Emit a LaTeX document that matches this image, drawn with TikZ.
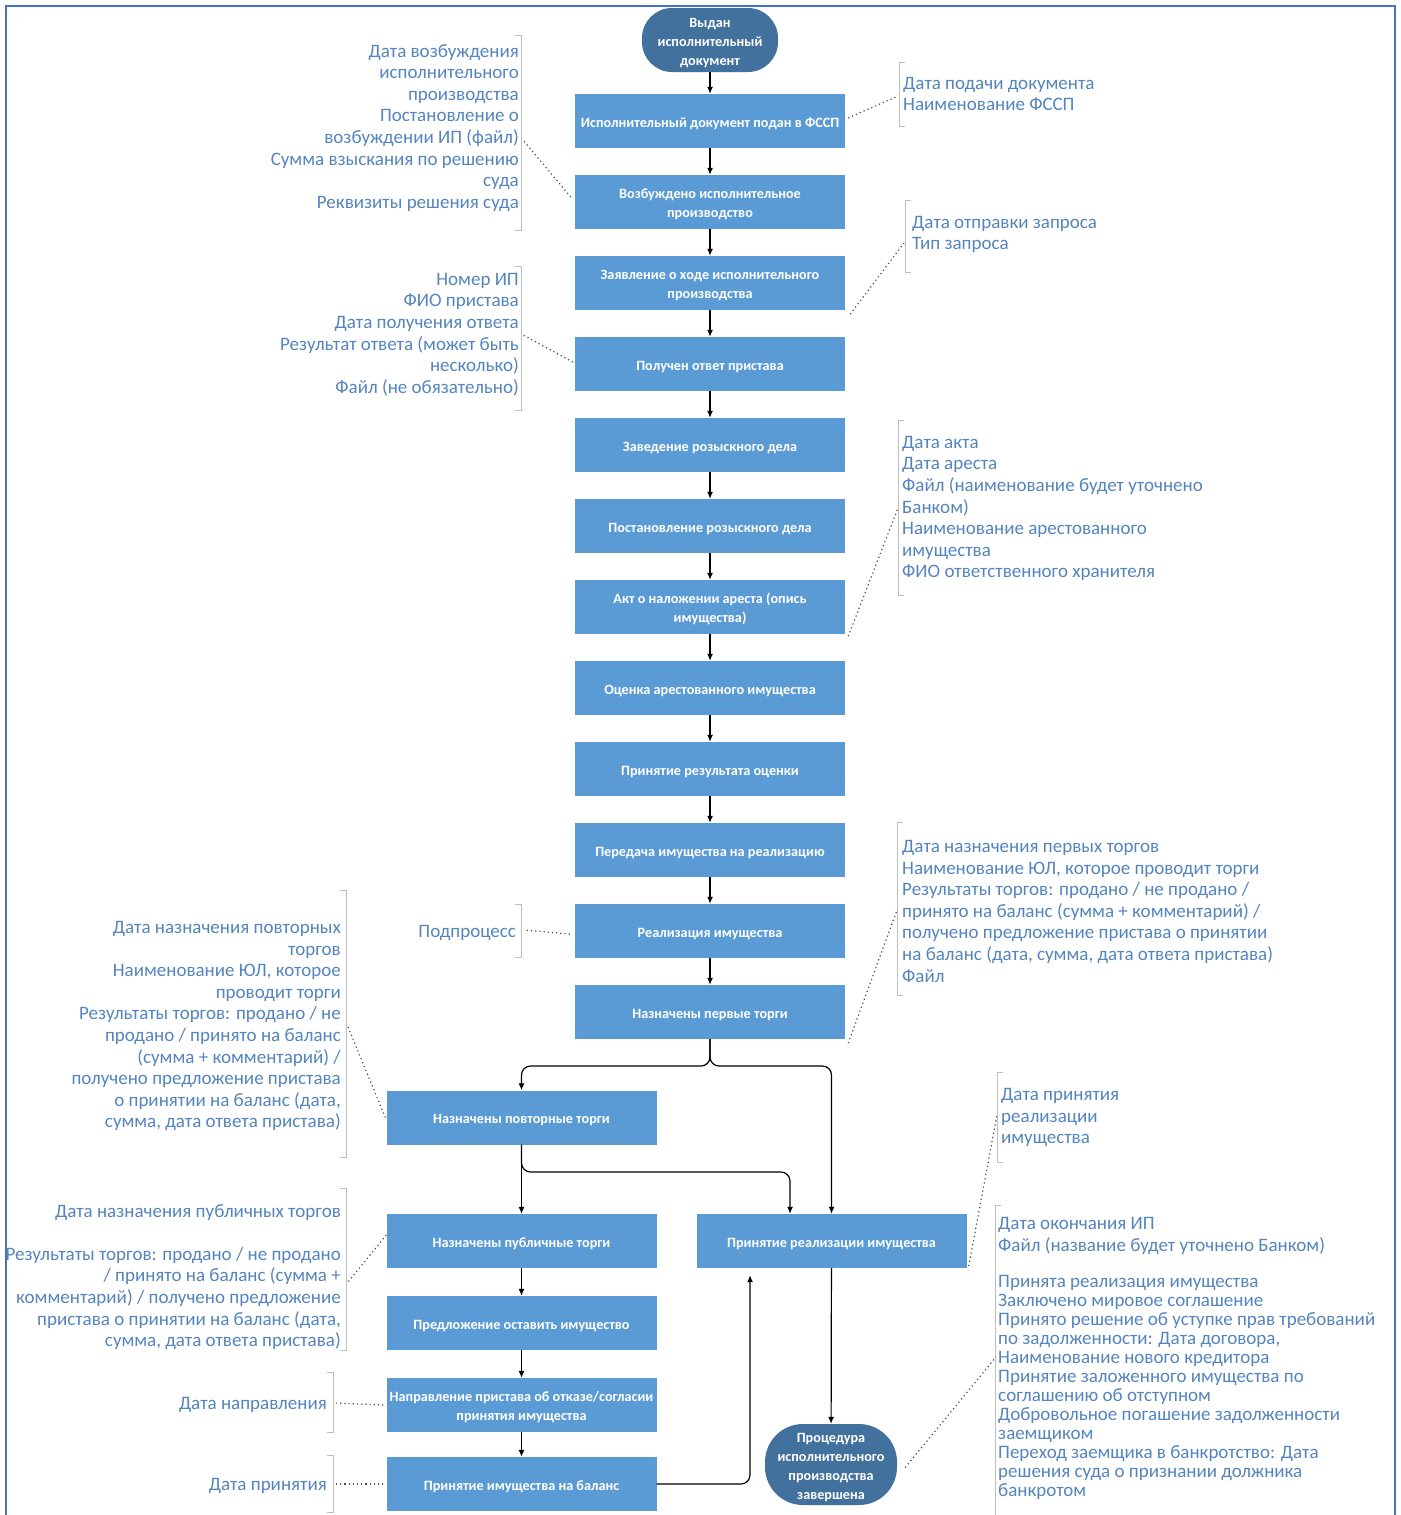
\documentclass[tikz,border=0pt]{standalone}
\usepackage{fontspec}
\setmainfont{Carlito}
\usetikzlibrary{arrows.meta}
\definecolor{boxblue}{RGB}{91,155,213}
\definecolor{termblue}{RGB}{65,113,156}
\definecolor{notecol}{RGB}{84,133,190}
\definecolor{brkcol}{RGB}{190,190,190}
\definecolor{frame}{RGB}{68,114,196}
\newcommand{\boxfont}{\bfseries\fontsize{14.2}{19}\selectfont}
\newcommand{\notefont}{\fontsize{19}{21.6}\selectfont}
\newcommand{\tightnote}{\fontsize{19}{19}\selectfont}
\tikzset{
  x=1pt, y=-1pt,
  proc/.style={rectangle, fill=boxblue, minimum width=270pt, minimum height=54pt,
    inner sep=1pt, text height=15pt, text=white, font=\boxfont, align=center},
  proctwo/.style={proc, text height=34pt},
  term/.style={rectangle, rounded corners=30pt, fill=termblue, inner sep=1pt,
    text=white, font=\boxfont, align=center},
  notel/.style={text=notecol, font=\notefont, inner sep=0pt, align=right, anchor=north east},
  noter/.style={text=notecol, font=\notefont, inner sep=0pt, align=left, anchor=north west},
  link/.style={-{Latex[length=7pt,width=6pt]}, line width=1.2pt, black},
  dots/.style={line width=1.2pt, dash pattern=on 1.2pt off 3pt, black!70},
  brk/.style={line width=1pt, brkcol}
}
\begin{document}
\begin{tikzpicture}
\useasboundingbox (0,0) rectangle (1400,1515);
\fill[white] (0,0) rectangle (1400,1515);
% frame, open at the bottom
\draw[frame, line width=2.6pt] (6,1515) -- (6,6) -- (1395,6) -- (1395,1515);

% main column
\node[term, minimum width=136pt, minimum height=64pt, text height=53pt] (start) at (710,40) {Выдан\\исполнительный\\документ};
\node[proc]    (b2)  at (710,121)  {Исполнительный документ подан в ФССП};
\node[proctwo] (b3)  at (710,202)  {Возбуждено исполнительное\\производство};
\node[proctwo] (b4)  at (710,283)  {Заявление о ходе исполнительного\\производства};
\node[proc]    (b5)  at (710,364)  {Получен ответ пристава};
\node[proc]    (b6)  at (710,445)  {Заведение розыскного дела};
\node[proc]    (b7)  at (710,526)  {Постановление розыскного дела};
\node[proctwo] (b8)  at (710,607)  {Акт о наложении ареста (опись\\имущества)};
\node[proc]    (b9)  at (710,688)  {Оценка арестованного имущества};
\node[proc]    (b10) at (710,769)  {Принятие результата оценки};
\node[proc]    (b11) at (710,850)  {Передача имущества на реализацию};
\node[proc]    (b12) at (710,931)  {Реализация имущества};
\node[proc]    (b13) at (710,1012) {Назначены первые торги};

% lower part
\node[proc]    (p2)  at (521.5,1117.5) {Назначены повторные торги};
\node[proc]    (p3)  at (521.5,1241)   {Назначены публичные торги};
\node[proc]    (p4)  at (521.5,1323)   {Предложение оставить имущество};
\node[proctwo] (p5)  at (521.5,1405)   {Направление пристава об отказе/согласии\\принятия имущества};
\node[proc]    (p6)  at (521.5,1484)   {Принятие имущества на баланс};
\node[proc]    (acc) at (831.5,1241)   {Принятие реализации имущества};
\node[term, minimum width=132pt, minimum height=81pt, rounded corners=38pt, text height=72pt] (fin) at (831,1464.5)
  {Процедура\\исполнительного\\производства\\завершена};

% flow
\draw[link] (start) -- (b2);
\foreach \a/\b in {b2/b3,b3/b4,b4/b5,b5/b6,b6/b7,b7/b8,b8/b9,b9/b10,b10/b11,b11/b12,b12/b13,p3/p4,p4/p5,p5/p6}
  \draw[link] (\a) -- (\b);
\coordinate (split1) at (710,1066);
\coordinate (split2) at (521.5,1172);
\draw[link, rounded corners=9pt] (b13.south) -- (split1) -| (p2.north);
\draw[link, rounded corners=9pt] (b13.south) -- (split1) -| (acc.north);
\draw[link] (p2) -- (p3);
\draw[link, rounded corners=9pt] (p2.south) -- (split2) -| ([xshift=-41.5pt]acc.north);
\draw[link, rounded corners=9pt] (p6.east) -| ([xshift=-81.5pt,yshift=-7pt]acc.south);
\draw[link] (acc) -- (fin);

% annotation: initiation of proceedings
\draw[brk] (515,35) -- (521,35) -- (521,230) -- (515,230);
\node[notel] (n1) at (519,44) {Дата возбуждения\\исполнительного\\производства\\Постановление о\\возбуждении ИП (файл)\\Сумма взыскания по решению\\суда\\Реквизиты решения суда};
\coordinate (c1) at (523,140);
\draw[dots] ([xshift=-4pt,yshift=5pt]b3.west) -- (c1);

% annotation: filing with the bailiff service
\draw[brk] (905,62) -- (899,62) -- (899,126) -- (905,126);
\node[noter] (n2) at (903,77) {Дата подачи документа\\Наименование ФССП};
\coordinate (c2) at (898,96);
\draw[dots] ([xshift=3pt,yshift=3pt]b2.east) -- (c2);

% annotation: request
\draw[brk] (911,200) -- (905,200) -- (905,272) -- (911,272);
\node[noter] (n3) at (912,216) {Дата отправки запроса\\Тип запроса};
\coordinate (c3) at (904,243);
\draw[dots] ([xshift=5pt,yshift=-4pt]b4.south east) -- (c3);

% annotation: bailiff response
\draw[brk] (515,266) -- (521,266) -- (521,410) -- (515,410);
\node[notel] (n4) at (519,273) {Номер ИП\\ФИО пристава\\Дата получения ответа\\Результат ответа (может быть\\несколько)\\Файл (не обязательно)};
\coordinate (c4) at (523,335);
\draw[dots] ([xshift=-2pt,yshift=2pt]b5.west) -- (c4);

% annotation: seizure act
\draw[brk] (904,420) -- (898,420) -- (898,595) -- (904,595);
\node[noter] (n5) at (902,436) {Дата акта\\Дата ареста\\Файл (наименование будет уточнено\\Банком)\\Наименование арестованного\\имущества\\ФИО ответственного хранителя};
\coordinate (c5) at (898,508);
\draw[dots] ([xshift=3pt,yshift=-2pt]b8.south east) -- (c5);

% annotation: first auction
\draw[brk] (903,822) -- (897,822) -- (897,995) -- (903,995);
\node[noter] (n6) at (902,840) {Дата назначения первых торгов\\Наименование ЮЛ, которое проводит торги\\Результаты торгов: продано / не продано /\\принято на баланс (сумма + комментарий) /\\получено предложение пристава о принятии\\на баланс (дата, сумма, дата ответа пристава)\\Файл};
\coordinate (c6) at (897,910);
\draw[dots] ([xshift=3pt,yshift=-4pt]b13.south east) -- (c6);

% annotation: subprocess
\draw[brk] (515,904) -- (521,904) -- (521,957) -- (515,957);
\node[notel] (n7) at (516,925) {Подпроцесс};
\coordinate (c7) at (524,930);
\draw[dots] ([xshift=-5pt,yshift=-3pt]b12.west) -- (c7);

% annotation: repeated auction
\draw[brk] (340,890) -- (346,890) -- (346,1157) -- (340,1157);
\node[notel] (n8) at (341,921) {Дата назначения повторных\\торгов\\Наименование ЮЛ, которое\\проводит торги\\Результаты торгов: продано / не\\продано / принято на баланс\\(сумма + комментарий) /\\получено предложение пристава\\о принятии на баланс (дата,\\сумма, дата ответа пристава)};
\coordinate (c8) at (348,1027);
\draw[dots] ([xshift=-1pt]p2.west) -- (c8);

% annotation: public auction
\draw[brk] (340,1188) -- (346,1188) -- (346,1350) -- (340,1350);
\node[notel] (n9) at (341,1204) {Дата назначения публичных торгов\\[21.6pt]Результаты торгов: продано / не продано\\/ принято на баланс (сумма +\\комментарий) / получено предложение\\пристава о принятии на баланс (дата,\\сумма, дата ответа пристава)};
\coordinate (c9) at (348,1282);
\draw[dots] ([xshift=0pt,yshift=6pt]p3.west) -- (c9);

% annotation: direction
\draw[brk] (327,1372) -- (333,1372) -- (333,1432) -- (327,1432);
\node[notel] (n10) at (327,1397) {Дата направления};
\coordinate (c10) at (334,1403);
\draw[dots] ([xshift=-3pt]p5.west) -- (c10);

% annotation: acceptance on balance
\draw[brk] (327,1455) -- (333,1455) -- (333,1512) -- (327,1512);
\node[notel] (n11) at (327,1478) {Дата принятия};
\coordinate (c11) at (334,1484);
\draw[dots] ([xshift=-3pt]p6.west) -- (c11);

% annotation: acceptance of sale
\draw[brk] (1003,1072) -- (997,1072) -- (997,1162) -- (1003,1162);
\node[noter] (n12) at (1001,1088) {Дата принятия\\реализации\\имущества};
\coordinate (c12) at (997,1115);
\draw[dots] ([xshift=2pt,yshift=-25pt]acc.east) -- (c12);

% annotation: completion
\draw[brk] (1001,1205) -- (995,1205) -- (995,1515);
\node[noter] (n13) at (998,1217) {Дата окончания ИП\\Файл (название будет уточнено Банком)};
\node[noter, font=\tightnote] (n14) at (998,1275) {Принята реализация имущества\\Заключено мировое соглашение\\Принято решение об уступке прав требований\\по задолженности: Дата договора,\\Наименование нового кредитора\\Принятие заложенного имущества по\\соглашению об отступном\\Добровольное погашение задолженности\\заемщиком\\Переход заемщика в банкротство: Дата\\решения суда о признании должника\\банкротом};
\coordinate (c13) at (996,1357);
\draw[dots] ([xshift=8pt,yshift=-3pt]fin.east) -- (c13);
\end{tikzpicture}
\end{document}
